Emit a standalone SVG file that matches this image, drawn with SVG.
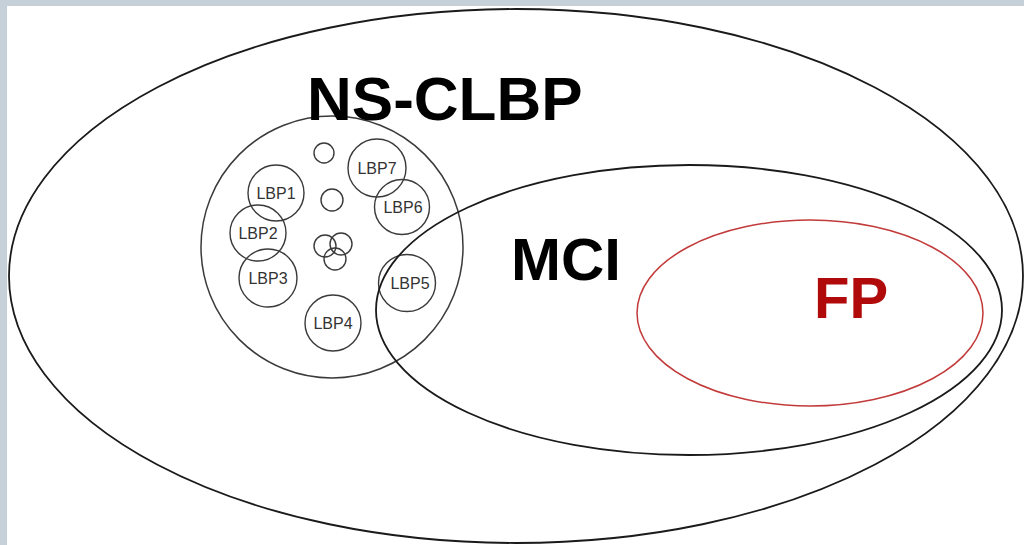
<svg xmlns="http://www.w3.org/2000/svg" width="1024" height="545" viewBox="0 0 1024 545">
  <style>
    .set { fill: none; stroke: #1a1a1a; stroke-width: 1.8; }
    .group { fill: none; stroke: #3a3a3a; stroke-width: 1.5; }
    .sub { fill: none; stroke: #3a3a3a; stroke-width: 1.4; }
    .fp { fill: none; stroke: #c23a3a; stroke-width: 1.5; }
    .big { font-family: "Liberation Sans", Arial, sans-serif; font-weight: bold; fill: #000; }
    .lbl { font-family: "Liberation Sans", Arial, sans-serif; font-size: 16px; fill: #333; text-anchor: middle; }
  </style>

  <!-- page frame -->
  <rect x="0" y="0" width="1024" height="545" fill="#c5d0d8"/>
  <rect x="7" y="6" width="1017" height="539" fill="#ffffff"/>

  <!-- outer population -->
  <g id="outer">
    <ellipse class="set" cx="516" cy="276" rx="507" ry="267"/>
  </g>

  <!-- NS-CLBP group with its sub-circles -->
  <g id="ns-clbp">
    <circle class="group" cx="332" cy="247" r="131"/>
    <text class="big" x="307" y="120" font-size="62">NS-CLBP</text>
  </g>

  <g id="small-circles">
    <circle class="sub" cx="324" cy="153" r="10"/>
    <circle class="sub" cx="332" cy="200" r="11"/>
    <circle class="sub" cx="325" cy="246" r="11"/>
    <circle class="sub" cx="341" cy="244" r="11"/>
    <circle class="sub" cx="335" cy="259" r="11"/>
  </g>

  <g id="lbp1"><circle class="sub" cx="276" cy="193" r="28"/><text class="lbl" x="276" y="199">LBP1</text></g>
  <g id="lbp2"><circle class="sub" cx="258" cy="233" r="28"/><text class="lbl" x="258" y="239">LBP2</text></g>
  <g id="lbp3"><circle class="sub" cx="268" cy="278" r="29"/><text class="lbl" x="268" y="284">LBP3</text></g>
  <g id="lbp4"><circle class="sub" cx="333" cy="323" r="28"/><text class="lbl" x="333" y="329">LBP4</text></g>
  <g id="lbp5"><circle class="sub" cx="407" cy="283" r="28.5"/><text class="lbl" x="410" y="289">LBP5</text></g>
  <g id="lbp6"><circle class="sub" cx="402" cy="207" r="27.5"/><text class="lbl" x="403" y="213">LBP6</text></g>
  <g id="lbp7"><circle class="sub" cx="377" cy="168" r="29"/><text class="lbl" x="377" y="174">LBP7</text></g>

  <!-- MCI set -->
  <g id="mci">
    <ellipse class="set" cx="689" cy="310" rx="313" ry="145"/>
    <text class="big" x="511" y="280" font-size="60">MCI</text>
  </g>

  <!-- FP subset -->
  <g id="fp">
    <ellipse class="fp" cx="810" cy="313" rx="173" ry="93"/>
    <text class="big" x="814" y="318" font-size="58" style="fill:#b00a0a">FP</text>
  </g>
</svg>
